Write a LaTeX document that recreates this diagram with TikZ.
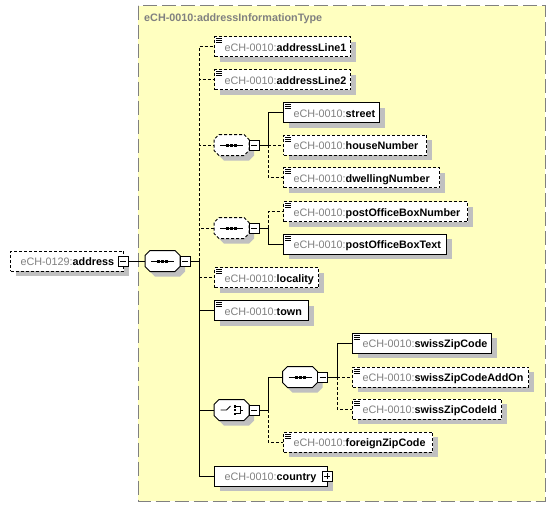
\documentclass[tikz,border=0pt]{standalone}
\usepackage{fontspec}
\setmainfont{Liberation Sans}
\usetikzlibrary{shadows}
\definecolor{ybg}{RGB}{255,255,192}
\definecolor{pgray}{RGB}{128,128,128}
\definecolor{shadowc}{RGB}{192,192,192}
\definecolor{bgray}{RGB}{128,128,128}
\newcommand\lab[2]{\hspace*{10pt}\mbox{\textcolor{pgray}{#1:}\textbf{#2}}}
\newcommand\octbody{%
  \fill[shadowc] (-7.5,5.5) -- (17.5,5.5) -- (22.5,0.5) -- (22.5,-10.5) -- (17.5,-15.5) -- (-7.5,-15.5) -- (-12.5,-10.5) -- (-12.5,0.5) -- cycle;
  \draw[line width=1pt, fill=white, cb] (-12.5,10.5) -- (12.5,10.5) -- (17.5,5.5) -- (17.5,-5.5) -- (12.5,-10.5) -- (-12.5,-10.5) -- (-17.5,-5.5) -- (-17.5,5.5) -- cycle;
  \node[minimum width=35pt, minimum height=21pt, inner sep=0pt] (-c) at (0,0) {};
  \node[minusbox] (-m) at (22.5,0) {};
}
\tikzset{
  dsh/.style={dash pattern=on 3pt off 2pt},
  cb/.style={},
  conn/.style={line width=1pt},
  optc/.style={line width=1pt, dsh},
  pmbox/.style={draw, fill=white, minimum size=10pt, inner sep=0pt, line width=0.8pt, solid},
  minusbox/.style={pmbox, path picture={\draw[line width=0.8pt] ([xshift=2pt]path picture bounding box.west) -- ([xshift=-2pt]path picture bounding box.east);}},
  plusbox/.style={pmbox, path picture={\draw[line width=0.8pt] ([xshift=2pt]path picture bounding box.west) -- ([xshift=-2pt]path picture bounding box.east); \draw[line width=0.8pt] ([yshift=2pt]path picture bounding box.south) -- ([yshift=-2pt]path picture bounding box.north);}},
  elem/.style={draw, fill=white, line width=1pt, minimum height=20pt, inner sep=0pt, anchor=west,
    text width=#1pt, align=left, text height=9pt, text depth=0pt,
    font=\fontsize{10.8pt}{12pt}\selectfont,
    drop shadow={opacity=1, fill=shadowc, shadow xshift=5pt, shadow yshift=-5pt}},
  opt/.style={dsh},
  doc/.style={path picture={\foreach \k in {2,4,6}{\draw[line width=0.8pt, solid] ([xshift=1.5pt,yshift=-\k*1pt]path picture bounding box.north west) -- ++(6pt,0pt);}}},
  seqpic/.pic={\octbody
    \draw[line width=1pt] (-11.5,0) -- (11.5,0);
    \fill (-5.5,-1.5) rectangle (-2.5,1.5);
    \fill (-1.5,-1.5) rectangle (1.5,1.5);
    \fill (2.5,-1.5) rectangle (5.5,1.5);
  },
  choicepic/.pic={\octbody
    \draw[line width=0.9pt] (-11,0) -- (-5,0) -- (-1,4);
    \fill (2,2.5) rectangle (4.5,5);
    \fill (2,-1.25) rectangle (4.5,1.25);
    \fill (2,-5) rectangle (4.5,-2.5);
    \draw[line width=0.9pt] (4.5,3.75) -- (8.5,3.75) -- (8.5,-3.75) -- (4.5,-3.75);
    \draw[line width=0.9pt] (8.5,0) -- (11.5,0);
  },
}
\begin{document}
\begin{tikzpicture}[x=1pt, y=1pt]
\useasboundingbox (0,0) rectangle (556,-507);
% complex type container
\draw[bgray, line width=1pt, dash pattern=on 14pt off 5pt, fill=ybg] (138,-5.5) rectangle (545,-501);
\node[anchor=base west, inner sep=0pt, text=bgray, font=\fontsize{10.8pt}{12pt}\selectfont\bfseries] (title) at (144,-21) {eCH-0010:addressInformationType};

% root element and main sequence
\node[elem=113, opt] (addr) at (10,-261) {\lab{eCH-0129}{address}};
\node[minusbox] (addrm) at (123,-261) {};
\pic (mseq) at (162.5,-261) {seqpic};
\coordinate (j0) at (199,-261);

% children of main sequence
\node[elem=136, opt, doc] (L1) at (214,-46.5) {\lab{eCH-0010}{addressLine1}};
\node[elem=136, opt, doc] (L2) at (214,-79.5) {\lab{eCH-0010}{addressLine2}};
\pic[cb/.style={dsh}] (sseq) at (231.5,-145) {seqpic};
\coordinate (j1) at (268,-145);
\node[elem=96, doc] (street) at (283,-112.5) {\lab{eCH-0010}{street}};
\node[elem=143, opt, doc] (house) at (283,-145) {\lab{eCH-0010}{houseNumber}};
\node[elem=156, opt, doc] (dwell) at (283,-177.5) {\lab{eCH-0010}{dwellingNumber}};
\pic[cb/.style={dsh}] (pseq) at (231.5,-228) {seqpic};
\coordinate (j2) at (268,-228);
\node[elem=184, opt, doc] (pobn) at (283,-211.5) {\lab{eCH-0010}{postOfficeBoxNumber}};
\node[elem=163, doc] (pobt) at (283,-244) {\lab{eCH-0010}{postOfficeBoxText}};
\node[elem=104, opt, doc] (loc) at (214,-277.5) {\lab{eCH-0010}{locality}};
\node[elem=94, doc] (town) at (214,-310.5) {\lab{eCH-0010}{town}};
\pic (ch) at (231.5,-410) {choicepic};
\coordinate (j3) at (268,-410);
\pic (zseq) at (300,-377) {seqpic};
\coordinate (j4) at (337,-377);
\node[elem=139, doc] (szc) at (352,-343) {\lab{eCH-0010}{swissZipCode}};
\node[elem=176, opt, doc] (szca) at (352,-377) {\lab{eCH-0010}{swissZipCodeAddOn}};
\node[elem=149, opt, doc] (szid) at (352,-409) {\lab{eCH-0010}{swissZipCodeId}};
\node[elem=149, opt, doc] (fzc) at (283,-442) {\lab{eCH-0010}{foreignZipCode}};
\node[elem=113] (ctry) at (214,-476) {\lab{eCH-0010}{country}};
\node[plusbox] (ctryp) at (327,-476) {};

% connectors
\draw[conn] (addrm.east) -- (mseq-c.west);
\draw[conn] (mseq-m.east) -- (j0);
\draw[optc] (j0) |- (L1.west);
\draw[optc] (j0) |- (L2.west);
\draw[optc] (j0) |- (sseq-c.west);
\draw[optc] (j0) |- (pseq-c.west);
\draw[optc] (j0 |- loc.west) -- (loc.west);
\draw[conn] (j0) |- (town.west);
\draw[conn] (j0) |- (ch-c.west);
\draw[conn] (j0) |- (ctry.west);

\draw[conn] (sseq-m.east) -- (j1);
\draw[conn] (j1) |- (street.west);
\draw[optc] (j1) |- (house.west);
\draw[optc] (j1) |- (dwell.west);

\draw[conn] (pseq-m.east) -- (j2);
\draw[optc] (j2) |- (pobn.west);
\draw[conn] (j2) |- (pobt.west);

\draw[conn] (ch-m.east) -- (j3);
\draw[conn] (j3) |- (zseq-c.west);
\draw[optc] (j3) |- (fzc.west);

\draw[conn] (zseq-m.east) -- (j4);
\draw[conn] (j4) |- (szc.west);
\draw[optc] (j4) |- (szca.west);
\draw[optc] (j4) |- (szid.west);
\end{tikzpicture}
\end{document}
